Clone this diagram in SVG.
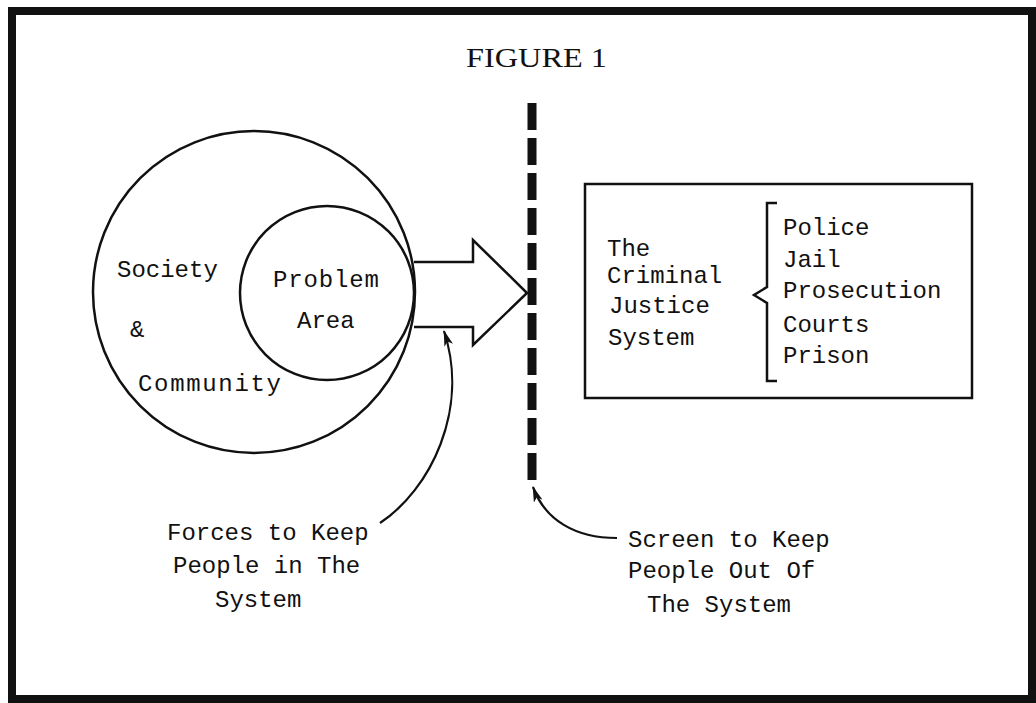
<svg xmlns="http://www.w3.org/2000/svg" width="1036" height="703" viewBox="0 0 1036 703">
<style>
.t{font-family:"Liberation Mono","Courier New",monospace;font-size:24px;fill:#111}
.ttl{font-family:"Liberation Serif","Times New Roman",serif;font-size:28px;fill:#111}
.ln{fill:none;stroke:#111;stroke-width:2.5}
.cn{fill:none;stroke:#111;stroke-width:2.2}
</style>
<defs>
<marker id="ah" markerWidth="16" markerHeight="9" refX="15" refY="4.5" orient="auto" markerUnits="userSpaceOnUse">
<path d="M0,0 L16,4.5 L0,9 L4,4.5 Z" fill="#111"/>
</marker>
</defs>
<rect width="1036" height="703" fill="#fff"/>
<rect id="frame" x="12" y="11" width="1020" height="688" fill="none" stroke="#111" stroke-width="8"/>
<text class="ttl" x="466" y="67" textLength="141" lengthAdjust="spacingAndGlyphs">FIGURE 1</text>

<g id="society">
<circle class="ln" cx="254" cy="292" r="161"/>
<text class="t" x="117" y="277">Society</text>
<text class="t" x="130" y="337">&amp;</text>
<text class="t" x="138" y="391" textLength="143">Community</text>
</g>
<g id="problem-area">
<circle class="ln" cx="327" cy="293" r="87"/>
<text class="t" x="273" y="287" textLength="106">Problem</text>
<text class="t" x="297" y="328">Area</text>
</g>
<g id="big-arrow">
<path class="ln" d="M414,262 H473 V240 L527,293 L473,345 V327 H414"/>
</g>
<g id="screen">
<line x1="532" y1="103" x2="532" y2="482" stroke="#111" stroke-width="9" stroke-dasharray="27 8"/>
</g>
<g id="cjs">
<rect class="ln" x="585" y="184" width="387" height="214"/>
<text class="t" x="607" y="256">The</text>
<text class="t" x="607" y="283">Criminal</text>
<text class="t" x="609" y="313">Justice</text>
<text class="t" x="608" y="345">System</text>
<path class="ln" d="M777,203 H767 V287 L754,295 L767,303 V381 H777"/>
<text class="t" x="783" y="235">Police</text>
<text class="t" x="783" y="267">Jail</text>
<text class="t" x="783" y="298">Prosecution</text>
<text class="t" x="783" y="332">Courts</text>
<text class="t" x="783" y="363">Prison</text>
</g>
<g id="forces-label">
<text class="t" x="167" y="540">Forces to Keep</text>
<text class="t" x="173" y="573">People in The</text>
<text class="t" x="215" y="607">System</text>
</g>
<g id="screen-label">
<text class="t" x="628" y="547">Screen to Keep</text>
<text class="t" x="628" y="578">People Out Of</text>
<text class="t" x="647" y="612">The System</text>
</g>
<g id="connectors">
<path class="cn" d="M380,523 C430,490 470,410 444,331" marker-end="url(#ah)"/>
<path class="cn" d="M617,538 C575,538 545,520 533,487" marker-end="url(#ah)"/>
</g>
</svg>
